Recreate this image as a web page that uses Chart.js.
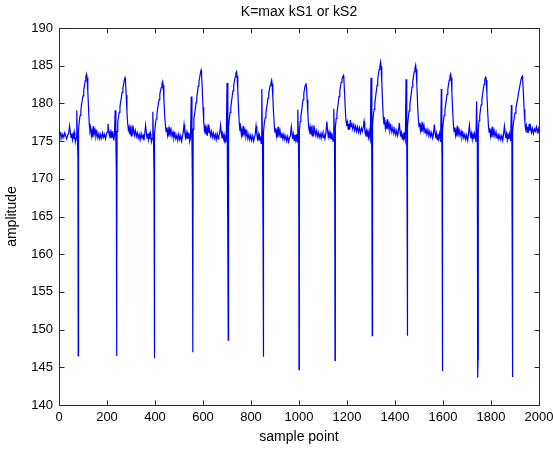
<!DOCTYPE html>
<html>
<head>
<meta charset="utf-8">
<script src="https://cdn.jsdelivr.net/npm/chart.js@4.4.1/dist/chart.umd.min.js"></script>
<style>
  body { margin: 0; background: #fff; }
  #wrap { width: 553px; height: 450px; }
</style>
</head>
<body>
<div id="wrap"><canvas id="plot"></canvas></div>
<script>
// sample index of each reading, one line per beat
const samplePoint = [
  0,4,8,12,16,20,24,28,32,36,
  40,44,47,50,53,56,59,62,64,66,68,71,74,77,79,80,81,82,85,88,91,94,97,100,103,106,109,112,115,117,120,123,126,129,132,135,138,141,144,147,150,154,158,162,166,170,174,178,182,186,190,194,198,
  200,204,207,210,213,216,219,222,224,226,228,231,234,237,239,240,241,242,245,248,251,254,257,260,263,266,269,272,275,277,280,283,286,289,292,295,298,301,304,307,310,314,318,322,326,330,334,338,342,346,350,354,
  357,361,364,367,370,373,376,379,381,383,385,388,391,394,396,397,398,399,402,405,408,411,414,417,420,423,426,429,432,434,437,440,443,446,449,452,455,458,461,464,467,471,475,479,483,487,491,495,499,503,507,511,514,
  517,521,524,527,530,533,536,539,541,543,545,548,551,554,556,557,558,559,562,565,568,571,574,577,580,583,586,589,592,594,597,600,603,606,609,612,615,618,621,624,627,631,635,639,643,647,651,655,659,663,666,
  669,673,676,679,682,685,688,690,692,694,697,700,703,704,705,706,707,710,713,716,719,722,725,728,731,734,737,740,742,745,748,751,754,757,760,763,766,769,772,775,779,783,787,791,795,799,803,807,811,814,
  817,821,824,827,830,833,836,838,840,842,845,848,850,851,852,853,856,859,862,865,868,871,874,877,880,883,886,888,891,894,897,900,903,906,909,912,915,918,921,925,929,933,937,941,945,949,953,957,961,
  964,968,971,974,977,980,983,986,988,990,992,995,998,999,1000,1001,1002,1005,1008,1011,1014,1017,1020,1023,1026,1029,1031,1034,1037,1040,1043,1046,1049,1052,1055,1058,1061,1064,1068,1072,1076,1080,1084,1088,1092,1096,1100,1104,1108,
  1112,1116,1119,1122,1125,1128,1131,1134,1137,1140,1142,1145,1148,1149,1150,1151,1152,1155,1158,1161,1164,1167,1170,1173,1176,1179,1182,1185,1187,1190,1193,1196,1199,1202,1205,1208,1211,1214,1217,1220,1224,1228,1232,1236,1240,1244,1248,1252,1256,1260,1264,
  1267,1271,1274,1277,1280,1283,1286,1289,1292,1295,1297,1300,1303,1304,1305,1306,1307,1310,1313,1316,1319,1322,1325,1328,1331,1334,1337,1340,1342,1345,1348,1351,1354,1357,1360,1363,1366,1369,1372,1375,1379,1383,1387,1391,1395,1399,1403,1407,1411,
  1414,1418,1421,1424,1427,1430,1433,1436,1439,1441,1443,1446,1449,1450,1451,1452,1453,1456,1459,1462,1465,1468,1471,1474,1477,1480,1483,1486,1488,1491,1494,1497,1500,1503,1506,1509,1512,1515,1518,1521,1525,1529,1533,1537,1541,1545,1549,1553,1557,
  1560,1564,1567,1570,1573,1576,1579,1582,1585,1588,1590,1593,1595,1596,1597,1598,1599,1602,1605,1608,1611,1614,1617,1620,1623,1626,1629,1632,1634,1637,1640,1643,1646,1649,1652,1655,1658,1661,1664,1667,1671,1675,1679,1683,1687,1691,1695,1699,1703,
  1706,1710,1713,1716,1719,1722,1725,1728,1731,1735,1737,1740,1743,1744,1745,1746,1747,1750,1753,1756,1759,1762,1765,1768,1771,1774,1776,1778,1780,1783,1786,1789,1792,1795,1798,1801,1804,1807,1810,1813,1817,1821,1825,1829,1833,1837,1841,1845,1849,
  1852,1856,1859,1862,1865,1868,1871,1874,1877,1880,1882,1885,1887,1888,1889,1890,1891,1894,1897,1900,1904,1908,1912,1916,1920,1924,1927,1930,1932,1935,1938,1941,1944,1947,1950,1953,1956,1959,1962,1965,1969,1973,1977,1981,1985,1989,1993,1997,2000
];

const amplitude = [
  176.2,175.6,176.0,175.4,175.9,175.5,176.1,175.7,175.3,175.8,
  176.0,177.0,176.2,175.5,176.0,175.2,175.9,175.3,176.1,175.6,174.9,175.4,179.1,174.8,172.8,146.5,168,176.5,177.8,178.4,179.0,179.9,180.4,181.0,181.8,182.3,183.0,183.6,183.9,183.4,181.6,179.4,177.3,176.3,176.7,175.7,176.4,175.5,177.0,176.0,176.5,175.6,176.2,175.4,176.0,175.3,175.9,175.4,176.1,175.5,175.9,175.3,176.0,
  176.2,177.3,176.4,175.7,176.2,175.4,176.1,175.5,176.3,175.8,175.1,175.7,179.1,175.0,170.7,146.5,158,176.3,177.6,178.2,178.8,179.6,180.2,180.8,181.5,182.0,182.5,183.1,183.4,182.9,181.1,178.9,177.4,176.5,176.9,175.9,176.6,175.7,177.1,176.2,176.7,175.8,176.4,175.6,176.1,175.4,175.9,175.2,176.0,175.4,175.8,175.1,
  175.9,177.1,176.1,175.4,176.0,175.2,175.9,175.3,176.0,175.6,174.9,175.3,178.9,174.7,170.5,146.2,153.3,176.0,177.3,177.9,178.5,179.3,179.9,180.5,181.2,181.7,182.1,182.6,182.9,182.4,180.6,178.6,177.2,176.3,176.8,175.8,176.5,175.6,176.9,176.0,176.5,175.6,176.2,175.4,176.0,175.3,175.8,175.1,175.9,175.2,175.7,175.0,175.6,
  176.0,177.2,176.2,175.5,176.1,175.3,176.0,175.4,176.1,175.7,175.0,175.4,180.9,174.8,169.0,147.0,150.2,176.6,178.0,178.6,179.3,180.1,180.8,181.5,182.3,182.9,183.4,184.0,184.4,183.8,181.9,179.5,177.6,176.4,176.9,175.9,176.6,175.7,177.2,176.1,176.6,175.7,176.3,175.5,176.1,175.4,175.9,175.2,176.0,175.3,175.8,
  175.9,177.1,176.2,175.4,176.0,175.3,175.8,175.2,175.5,174.8,175.3,182.7,174.6,161.0,148.6,158.0,176.8,178.1,178.8,179.5,180.3,181.0,181.7,182.4,183.0,183.5,184.0,184.2,183.6,181.7,179.3,177.4,176.3,176.8,175.8,176.5,175.6,177.0,176.0,176.5,175.6,176.2,175.3,175.9,175.2,175.8,175.1,175.7,175.0,175.5,
  175.8,177.0,176.0,175.3,175.9,175.1,175.7,175.1,175.6,174.7,181.9,174.5,163.5,146.4,154.0,176.2,177.5,178.1,178.7,179.4,180.0,180.7,181.3,181.9,182.4,182.8,183.1,182.6,180.8,178.7,177.1,176.2,176.7,175.7,176.4,175.5,176.9,175.9,176.4,175.5,176.1,175.3,175.9,175.2,175.7,175.0,175.6,174.9,175.5,
  175.7,176.9,176.0,175.3,175.9,175.1,175.8,175.2,175.9,175.3,174.9,179.2,174.6,170.8,144.7,172.0,176.4,177.6,178.3,179.0,179.8,180.5,181.3,181.9,182.4,182.7,182.2,180.5,178.5,177.0,176.3,176.9,175.9,176.6,175.7,177.1,176.1,176.7,175.8,176.4,175.6,176.2,175.5,176.0,175.4,176.1,175.5,175.9,175.3,
  176.0,177.6,176.4,175.6,176.2,175.4,176.0,175.3,176.1,175.4,175.0,179.3,174.8,167.5,145.9,160.0,176.8,178.0,178.7,179.4,180.2,180.9,181.6,182.3,182.8,183.2,183.5,183.7,183.2,181.3,179.1,177.7,177.0,177.5,176.6,177.3,176.5,177.8,176.9,177.4,176.6,177.2,176.4,177.0,176.3,176.9,176.2,176.8,176.1,176.7,176.3,
  176.8,177.6,176.5,175.9,176.4,175.6,176.2,175.5,176.3,175.5,175.2,183.4,174.9,172.0,149.2,151.3,177.2,178.5,179.2,180.0,180.8,181.6,182.4,183.2,183.9,184.5,185.0,185.5,184.9,182.8,180.3,178.2,177.2,177.7,176.7,177.4,176.6,177.9,176.8,177.3,176.4,177.0,176.2,176.8,176.0,176.6,175.8,176.4,175.7,
  176.2,177.4,176.3,175.6,176.1,175.3,176.0,175.4,176.2,175.4,175.1,183.2,174.8,169.6,149.2,150.0,177.0,178.3,179.0,179.8,180.6,181.4,182.2,182.9,183.6,184.2,184.7,185.1,184.5,182.5,180.0,178.0,176.9,177.4,176.4,177.1,176.2,177.5,176.5,177.0,176.1,176.7,175.9,176.5,175.7,176.3,175.6,176.1,175.4,
  175.9,177.2,176.1,175.4,176.0,175.2,175.9,175.3,176.0,175.4,174.9,181.9,174.6,172.5,144.5,152.0,176.4,177.7,178.4,179.1,179.8,180.5,181.2,181.9,182.5,183.1,183.6,183.9,183.4,181.5,179.2,177.3,176.3,176.8,175.8,176.5,175.6,177.0,176.0,176.5,175.7,176.3,175.5,176.1,175.4,175.9,175.2,175.8,175.1,
  175.9,177.1,176.1,175.4,176.0,175.2,175.9,175.3,176.0,175.4,174.9,180.3,174.6,172.0,143.6,146.0,176.4,177.7,178.4,179.1,179.8,180.5,181.2,181.9,182.5,183.1,183.4,183.6,183.1,181.2,179.0,177.2,176.2,176.7,175.7,176.4,175.5,176.9,175.9,176.4,175.6,176.2,175.4,176.0,175.3,175.8,175.2,175.7,175.1,
  175.9,177.0,176.0,175.4,176.0,175.2,175.8,175.3,176.0,175.4,175.0,179.8,174.7,163.8,143.7,152.4,176.3,177.5,178.1,178.7,179.4,180.1,180.8,181.6,182.3,183.0,183.4,183.6,183.1,181.3,179.2,177.6,176.6,177.1,176.2,176.9,176.1,177.3,176.4,176.9,176.1,176.7,176.0,176.6,176.3,176.9,176.2,176.7,176.0
];

const xTicks = [0, 200, 400, 600, 800, 1000, 1200, 1400, 1600, 1800, 2000];
const yTicks = [140, 145, 150, 155, 160, 165, 170, 175, 180, 185, 190];

const family = "'Liberation Sans', Arial, sans-serif";
const tickFont = { family: family, size: 13, weight: 'normal' };
const labelFont = { family: family, size: 14, weight: 'normal' };
const axisColor = '#2b2b2b';

// matlab style box with ticks pointing inward on all four sides
const boxTicks = {
  id: 'boxTicks',
  afterDraw(chart) {
    const ctx = chart.ctx;
    const a = chart.chartArea;
    const xs = chart.scales.x, ys = chart.scales.y;
    const L = Math.round(a.left) + 0.5, R = Math.round(a.right) + 0.5;
    const T = Math.round(a.top) + 0.5, B = Math.round(a.bottom) + 0.5;
    ctx.save();
    ctx.strokeStyle = axisColor;
    ctx.lineWidth = 1;
    ctx.beginPath();
    ctx.rect(L, T, R - L, B - T);
    xTicks.forEach(function(v){
      const px = Math.round(xs.getPixelForValue(v)) + 0.5;
      ctx.moveTo(px, B); ctx.lineTo(px, B - 5);
      ctx.moveTo(px, T); ctx.lineTo(px, T + 5);
    });
    yTicks.forEach(function(v){
      const py = Math.round(ys.getPixelForValue(v)) + 0.5;
      ctx.moveTo(L, py); ctx.lineTo(L + 5, py);
      ctx.moveTo(R, py); ctx.lineTo(R - 5, py);
    });
    ctx.stroke();
    ctx.restore();
  }
};

const points = samplePoint.map(function(x, i){ return { x: x, y: amplitude[i] }; });

new Chart(document.getElementById('plot'), {
  type: 'line',
  data: {
    datasets: [{
      data: points,
      borderColor: '#0000ff',
      borderWidth: 1.2,
      pointRadius: 0,
      fill: false,
      tension: 0
    }]
  },
  options: {
    animation: false,
    responsive: true,
    maintainAspectRatio: false,
    layout: { padding: { left: 0, right: 14, top: 0, bottom: 0 } },
    plugins: {
      legend: { display: false },
      tooltip: { enabled: false },
      title: {
        display: true,
        text: 'K=max kS1 or kS2',
        fullSize: false,
        color: '#000',
        font: labelFont,
        padding: { top: 4, bottom: 7.2 }
      }
    },
    scales: {
      x: {
        type: 'linear',
        min: 0,
        max: 2000,
        afterBuildTicks: function(s){ s.ticks = xTicks.map(function(v){ return { value: v }; }); },
        ticks: { color: '#000', font: tickFont, padding: 5, maxRotation: 0, autoSkip: false,
                 callback: function(v){ return String(v); } },
        grid: { display: true, drawOnChartArea: false, drawTicks: false },
        border: { display: false },
        title: { display: true, text: 'sample point', color: '#000', font: labelFont, padding: { top: 0, bottom: 4 } },
        afterFit: function(s){ s.height = 45; s.paddingLeft = 0; s.paddingRight = 0; }
      },
      y: {
        type: 'linear',
        min: 140,
        max: 190,
        afterBuildTicks: function(s){ s.ticks = yTicks.map(function(v){ return { value: v }; }); },
        ticks: { color: '#000', font: tickFont, padding: 6, autoSkip: false,
                 callback: function(v){ return String(v); } },
        grid: { display: true, drawOnChartArea: false, drawTicks: false },
        border: { display: false },
        title: { display: true, text: 'amplitude', color: '#000', font: labelFont, padding: { top: 4, bottom: 0 } },
        afterFit: function(s){ s.width = 59; s.paddingTop = 0; s.paddingBottom = 0; }
      }
    }
  },
  plugins: [boxTicks]
});
</script>
</body>
</html>
